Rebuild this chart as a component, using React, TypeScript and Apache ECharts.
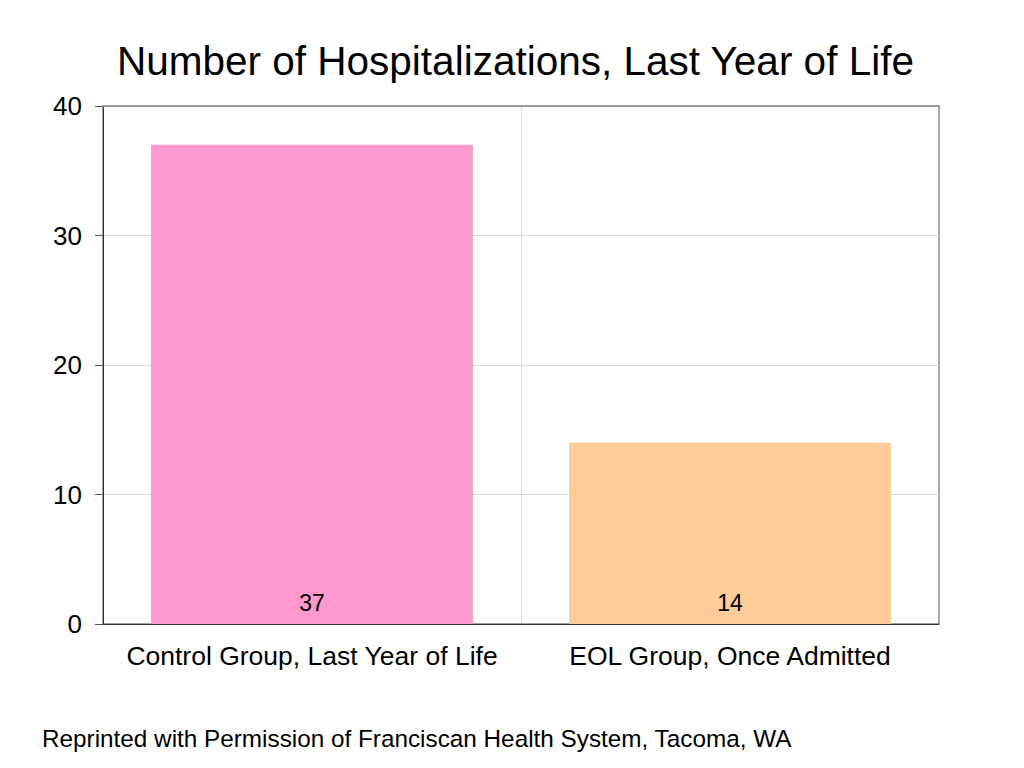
import React, { useEffect, useRef } from "react";
import * as echarts from "echarts";

const categories = ["Control Group, Last Year of Life", "EOL Group, Once Admitted"];
const values = [37, 14];
const barColors = ["#FD99CC", "#FFCC99"];
const titleText = "Number of Hospitalizations, Last Year of Life";
const footerText = "Reprinted with Permission of Franciscan Health System, Tacoma, WA";

const FONT = "'Liberation Sans', Arial, Helvetica, sans-serif";

export default function App() {
  const ref = useRef<HTMLDivElement>(null);
  useEffect(() => {
    if (!ref.current) return;
    const chart = echarts.init(ref.current, undefined, { renderer: "svg" });
    chart.setOption({
      animation: false,
      backgroundColor: "#ffffff",
      textStyle: { fontFamily: FONT },
      title: {
        text: titleText,
        left: 112,
        top: 35,
        textStyle: { fontFamily: FONT, fontSize: 40.5, fontWeight: "normal", color: "#000" },
      },
      graphic: [
        {
          type: "text",
          left: 42,
          top: 726,
          style: { text: footerText, fontFamily: FONT, fontSize: 24.3, fill: "#000" },
        },
      ],
      grid: {
        left: 103,
        right: 85,
        top: 106,
        bottom: 144,
        show: true,
        borderColor: "#444",
        borderWidth: 1,
        backgroundColor: "transparent",
      },
      xAxis: [
        {
          type: "category",
          data: categories,
          axisLine: { show: true, lineStyle: { color: "#333", width: 1 } },
          axisTick: { show: false },
          axisLabel: { fontFamily: FONT, fontSize: 26.5, color: "#000", margin: 18, interval: 0 },
          splitLine: { show: true, lineStyle: { type: "dotted", color: "#bbb", width: 1 } },
        },
        {
          type: "category",
          position: "top",
          data: categories,
          axisLine: { show: true, lineStyle: { color: "#999", width: 2 } },
          axisTick: { show: false },
          axisLabel: { show: false },
          splitLine: { show: false },
        },
      ],
      yAxis: {
        type: "value",
        min: 0,
        max: 40,
        interval: 10,
        axisLine: { show: true, lineStyle: { color: "#333", width: 1 } },
        axisTick: { show: true, length: 8, lineStyle: { color: "#555" } },
        axisLabel: { fontFamily: FONT, fontSize: 26, color: "#000", margin: 21 },
        splitLine: { show: true, lineStyle: { color: "#ddd", width: 1 } },
      },
      series: [
        {
          type: "bar",
          xAxisIndex: 0,
          barWidth: "77%",
          data: values.map((v, i) => ({ value: v, itemStyle: { color: barColors[i] } })),
          label: {
            show: true,
            position: "insideBottom",
            distance: 10,
            fontFamily: FONT,
            fontSize: 23,
            color: "#000",
          },
        },
      ],
    });
    return () => chart.dispose();
  }, []);
  return (
    <div
      ref={ref}
      style={{ position: "fixed", left: 0, top: 0, width: 1024, height: 768 }}
    />
  );
}
